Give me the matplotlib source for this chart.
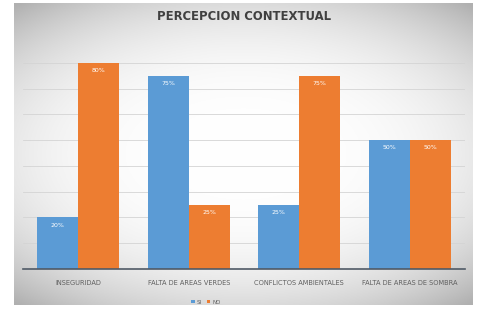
import matplotlib.pyplot as plt
import numpy as np

categories = ['INSEGURIDAD', 'FALTA DE AREAS VERDES', 'CONFLICTOS AMBIENTALES', 'FALTA DE AREAS DE SOMBRA']
si = [0.20, 0.75, 0.25, 0.50]
no = [0.80, 0.25, 0.75, 0.50]
labels_si = ['20%', '75%', '25%', '50%']
labels_no = ['80%', '25%', '75%', '50%']

W, H = 489, 309
fig = plt.figure(figsize=(W / 100, H / 100), dpi=100)
fig.patch.set_facecolor('white')

# gray gradient panel behind the chart
bg = fig.add_axes([14 / W, 1 - 305 / H, (473 - 14) / W, (305 - 3) / H])
yy, xx = np.mgrid[-1:1:200j, -1:1:300j]
r = np.sqrt((xx * 0.85) ** 2 + (yy * 1.0) ** 2)
shade = 1 - 0.14 * np.clip(r, 0, 1.3) ** 3
bg.imshow(np.dstack([shade, shade, shade]), aspect='auto', extent=[0, 1, 0, 1])
bg.set_axis_off()

ax = fig.add_axes([23 / W, 1 - 269 / H, (465 - 23) / W, (269 - 37) / H])
ax.patch.set_alpha(0)
x = np.arange(len(categories))
w = 0.37
b1 = ax.bar(x - w / 2, si, w, color='#5B9BD5', label='SI')
b2 = ax.bar(x + w / 2, no, w, color='#ED7D31', label='NO')
for bars, labs in [(b1, labels_si), (b2, labels_no)]:
    for b, t in zip(bars, labs):
        ax.text(b.get_x() + b.get_width() / 2, b.get_height() - 0.02, t,
                ha='center', va='top', color='white', fontsize=4.5)

ax.set_xlim(-0.5, 3.5)
ax.set_ylim(0, 0.9)
ax.set_yticks(np.arange(0.1, 0.85, 0.1))
ax.yaxis.grid(True, color='#d4d4d4', linewidth=0.6)
ax.set_axisbelow(True)
ax.tick_params(axis='y', left=False, labelleft=False)
ax.tick_params(axis='x', length=0, pad=8, labelsize=4.8, labelcolor='#606060')
ax.set_xticks(x)
ax.set_xticklabels(categories)
for s in ['top', 'right', 'left']:
    ax.spines[s].set_visible(False)
ax.spines['bottom'].set_color('#505a66')
ax.spines['bottom'].set_linewidth(1.2)

fig.text(244 / W, 1 - 17 / H, 'PERCEPCION CONTEXTUAL', ha='center', va='center',
         fontsize=8.4, fontweight='bold', color='#404040')
fig.legend(handles=[b1, b2], labels=['SI', 'NO'], loc='center',
           bbox_to_anchor=(206 / W, 1 - 302 / H), ncol=2, frameon=False,
           fontsize=4, handlelength=0.6, handleheight=0.6, handletextpad=0.4,
           columnspacing=0.9, labelcolor='#606060')

fig.savefig('out.png', dpi=100)
